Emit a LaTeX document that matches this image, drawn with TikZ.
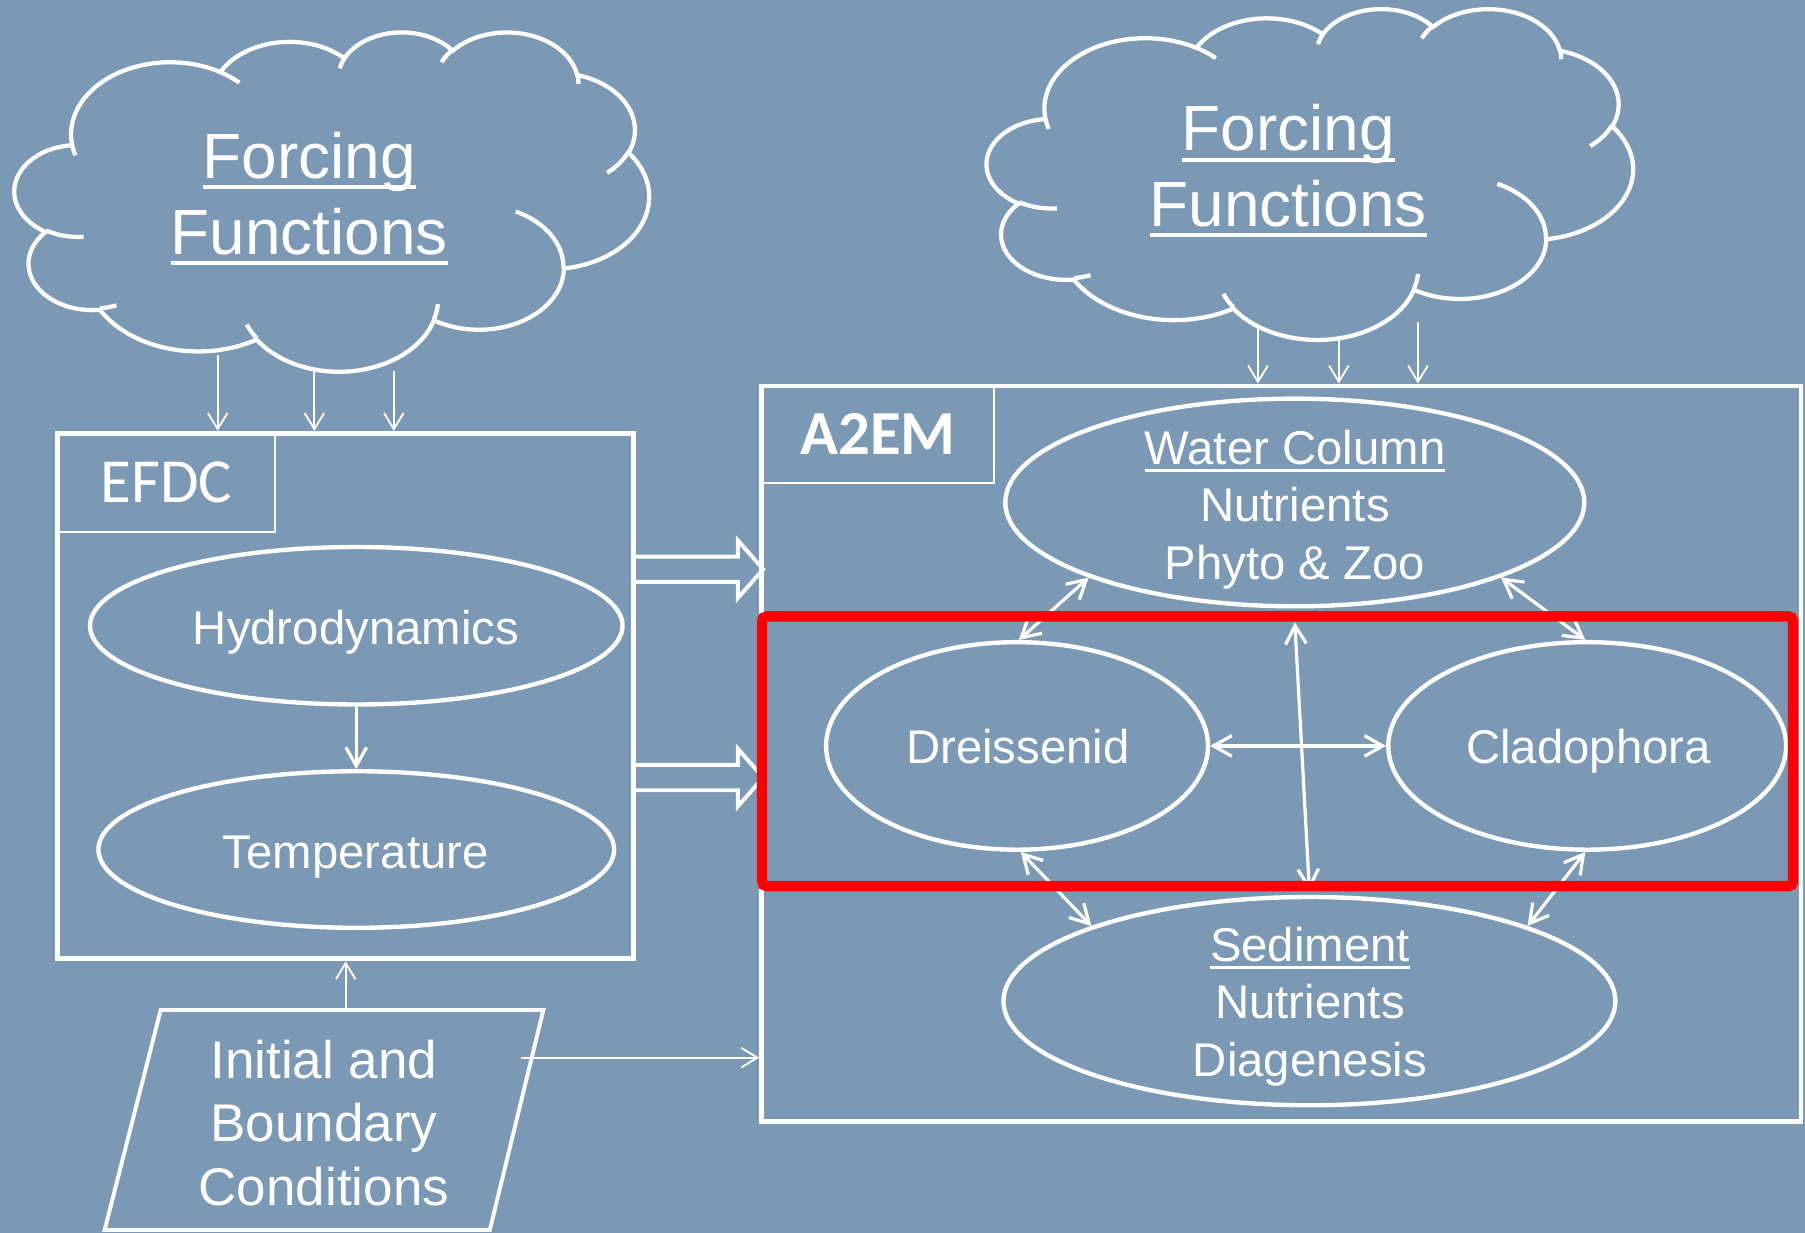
\documentclass[tikz,border=0pt]{standalone}
\usepackage{fontspec}
\setmainfont{Liberation Sans}
\newfontfamily\calfont{Carlito}
\usetikzlibrary{arrows.meta,shapes.geometric}

\definecolor{slide}{RGB}{123,152,180}

% underline that runs through the descenders
\newcommand\uword[1]{\setbox0=\hbox{#1}\rlap{\rule[-0.17em]{\wd0}{0.065em}}\box0}

% one lobe of the cloud: x radius, y radius, start and sweep angle
\newcommand\cloudarc[4]{%
  \pgfextra{%
    \pgfmathsetmacro\cla{atan2(#1*sin(#3),#2*cos(#3))}%
    \pgfmathsetmacro\clb{atan2(#1*sin(#3+#4),#2*cos(#3+#4))}%
    \pgfmathsetmacro\cld{\clb-\cla}%
    \pgfmathsetmacro\cld{\cld+360*(#4>0)*(\cld<0)-360*(#4<0)*(\cld>0)}%
    \global\let\clst\cla\global\let\cldl\cld}%
  arc[start angle=\clst, delta angle=\cldl, x radius=#1, y radius=#2]}

\newcommand\forcingcloud{%
  \draw[cloudline] (390,1437) \cloudarc{675.3}{919.0}{-190.4875}{123.7805}
    \cloudarc{533.3}{726.7}{-144.1024}{89.9452}
    \cloudarc{436.5}{594.5}{-145.8079}{99.7230}
    \cloudarc{485.7}{659.5}{-130.9861}{117.2417}
    \cloudarc{533.3}{727.3}{-78.7089}{109.0269}
    \cloudarc{677.5}{922.0}{-46.2673}{130.2690}
    \cloudarc{578.5}{786.7}{0.6250}{114.0333}
    \cloudarc{675.2}{921.5}{22.4516}{115.1726}
    \cloudarc{772.0}{1054.3}{66.2426}{75.7110}
    \cloudarc{436.0}{591.8}{-274.9421}{146.7356}
    \cloudarc{434.5}{594.5}{-246.8285}{152.5189} -- cycle;
  \draw[cloudline] (469.3,2617.7) \cloudarc{434.5}{594.5}{86.7420}{26.4295}
    (692.8,3489.9) \cloudarc{436.0}{591.8}{73.6105}{11.4475}
    (1647.8,3909.0) \cloudarc{675.2}{921.5}{137.6242}{14.0811}
    (2882.7,3475.1) \cloudarc{675.2}{921.5}{6.4533}{15.9984}
    (3412.9,2295.4) \cloudarc{578.5}{786.7}{-70.2924}{70.9174}
    (4179.8,1535.4) \cloudarc{533.3}{727.3}{30.3180}{27.7515}
    (3832.4,542.6) \cloudarc{485.7}{659.5}{-13.7443}{14.8589}
    (2907.8,395.2) \cloudarc{485.7}{659.5}{-149.1815}{18.1954}
    (2214.1,472.0) \cloudarc{436.5}{594.5}{-163.4943}{17.6868}
    (1400.0,519.2) \cloudarc{675.3}{919.0}{-66.7070}{12.3194}
    (412.7,1578.9) \cloudarc{675.3}{919.0}{157.6544}{11.8582};
}

\begin{document}
\begin{tikzpicture}[x=0.1mm, y=-0.1mm,
    >={Straight Barb[length=1.6mm,width=1.8mm]},
    cloudline/.style={draw=white, line width=0.37mm},
    bigbox/.style={draw=white, line width=0.42mm, rectangle, inner sep=0pt},
    headbox/.style={draw=white, line width=0.18mm, rectangle, inner sep=0pt,
        text=white, font=\calfont\fontsize{15.5}{18}\selectfont},
    ell/.style={ellipse, draw=white, line width=0.38mm, inner sep=0pt},
    elltext/.style={text=white, align=center, inner sep=0pt,
        font=\fontsize{11.7}{14.2}\selectfont},
    cloudtext/.style={text=white, align=center, inner sep=0pt,
        font=\fontsize{15.8}{18.7}\selectfont},
    link/.style={white, line width=0.28mm},
    feed/.style={white, line width=0.16mm,
        >={Straight Barb[length=1.4mm,width=1.7mm]}},
    blockarr/.style={draw=white, line width=0.34mm},
    focus/.style={draw=red, line width=0.9mm, rounded corners=0.4mm}]

\useasboundingbox (0,0) rectangle (1568,1071);
\fill[slide] (0,0) rectangle (1568,1071);

% forcing clouds
\begin{scope}[shift={(12.8,27.2)}, x=1pt, y=1pt, xscale=0.03629, yscale=-0.019416]
  \forcingcloud
\end{scope}
\begin{scope}[shift={(857.4,7)}, x=1pt, y=1pt, xscale=0.036962, yscale=-0.018916]
  \forcingcloud
\end{scope}
\node[cloudtext] (lforce) at (268.5,172.6) {\uword{Forcing}\\\uword{Functions}};
\node[cloudtext] (rforce) at (1119,148.5) {\uword{Forcing}\\\uword{Functions}};

% EFDC
\node[bigbox, minimum width=50.04mm, minimum height=45.66mm] (efdc) at (300.3,604.7) {};
\node[headbox, minimum width=18.88mm, minimum height=8.54mm] (efdchd) at (144.5,419.1) {EFDC};
\node[ell, minimum width=46.26mm, minimum height=13.68mm] (hyd) at (309.5,543.6) {};
\node[elltext, anchor=base] (hydt) at (309.2,559.7) {Hydrodynamics};
\node[ell, minimum width=44.8mm, minimum height=13.6mm] (tmp) at (309.5,738) {};
\node[elltext, anchor=base] (tmpt) at (309,754.3) {Temperature};
\draw[link, ->] (hyd) -- (tmp);

% A2EM
\node[bigbox, minimum width=90.29mm, minimum height=63.87mm] (a2em) at (1113.05,654.65) {};
\node[headbox, font=\calfont\bfseries\fontsize{15.5}{18}\selectfont,
    minimum width=20.19mm, minimum height=8.4mm] (a2emhd) at (762.55,377.3) {A2EM};
\node[ell, minimum width=50.3mm, minimum height=18.04mm] (wc) at (1124.8,436.5) {};
\node[elltext] (wct) at (1125,442.6) {\uword{Water Column}\\Nutrients\\Phyto \& Zoo};
\node[ell, minimum width=33.18mm, minimum height=18.03mm] (dr) at (883.5,648) {};
\node[elltext, anchor=base] (drt) at (884.3,663) {Dreissenid};
\node[ell, minimum width=34.56mm, minimum height=18.03mm] (cl) at (1378.8,648) {};
\node[elltext, anchor=base] (clt) at (1380,663) {Cladophora};
\node[ell, minimum width=53.16mm, minimum height=18.09mm] (sed) at (1137.5,869.7) {};
\node[elltext] (sedt) at (1138,874.2) {\uword{Sediment}\\Nutrients\\Diagenesis};

\draw[link, <->] (wc.200) -- (dr.89);
\draw[link, <->] (wc.340) -- (cl.91);
\draw[link, <->] (dr) -- (cl);
\draw[link, <->] ([yshift=-1.2mm]wc.south) -- ([yshift=0.35mm]sed.north);
\draw[link, <->] (dr.272) -- (sed.161);
\draw[link, <->] (cl.269) -- (sed.19);

% forcing inputs
\coordinate (lf1) at (189.1,308.4);
\coordinate (lf2) at (273.1,322.9);
\coordinate (lf3) at (342.1,322);
\draw[feed, ->] (lf1) -- (lf1 |- efdc.north);
\draw[feed, ->] (lf2) -- (lf2 |- efdc.north);
\draw[feed, ->] (lf3) -- (lf3 |- efdc.north);
\coordinate (rf1) at (1092.8,285.2);
\coordinate (rf2) at (1163,295.3);
\coordinate (rf3) at (1231.8,279.4);
\draw[feed, ->] (rf1) -- (rf1 |- a2em.north);
\draw[feed, ->] (rf2) -- (rf2 |- a2em.north);
\draw[feed, ->] (rf3) -- (rf3 |- a2em.north);

% EFDC output to A2EM
\coordinate (ba1) at (551,494.5);
\coordinate (ba2) at (551,675.5);
\draw[blockarr] (ba1) ++(0,-11) -- ++(90,0) -- ++(0,-14) -- ++(22,25) -- ++(-22,25) -- ++(0,-14) -- ++(-90,0);
\draw[blockarr] (ba2) ++(0,-11) -- ++(90,0) -- ++(0,-14) -- ++(22,25) -- ++(-22,25) -- ++(0,-14) -- ++(-90,0);

% initial and boundary conditions
\coordinate (ibc1) at (139.6,877.4);
\coordinate (ibc2) at (472,877.4);
\coordinate (ibc3) at (425.5,1068.5);
\coordinate (ibc4) at (90.9,1068.5);
\draw[white, line width=0.34mm] (ibc1) -- (ibc2) -- (ibc3) -- (ibc4) -- cycle;
\node[text=white, align=center, inner sep=0pt, font=\fontsize{13.1}{15.7}\selectfont]
    (ibct) at (281.4,975.3) {Initial and\\Boundary\\Conditions};
\coordinate (ibcout) at (452.8,918.8);
\draw[feed, ->] (efdc.south |- ibc1) -- (efdc.south);
\draw[feed, ->] (ibcout) -- (ibcout -| a2em.west);

% highlight
\draw[focus] (662,535.5) rectangle (1557.6,769.8);

\end{tikzpicture}
\end{document}
